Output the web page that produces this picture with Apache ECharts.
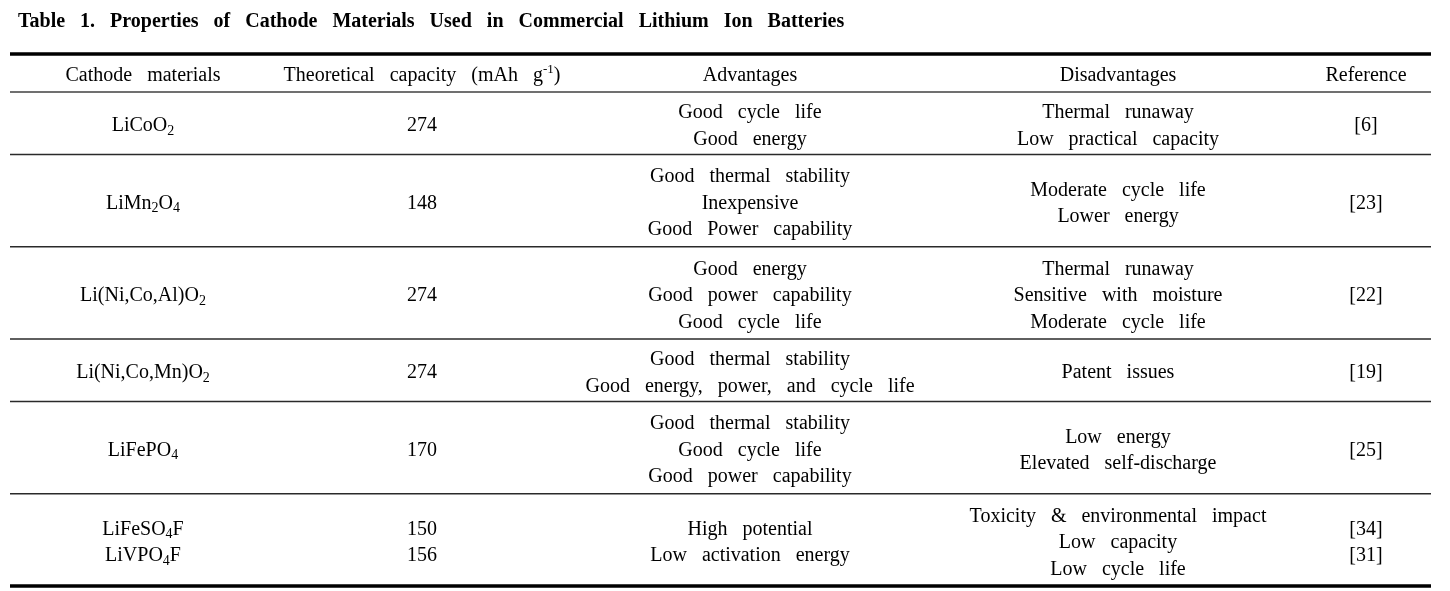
<!DOCTYPE html>
<html>
<head>
<meta charset="utf-8">
<script src="https://cdn.jsdelivr.net/npm/echarts@6/dist/echarts.min.js"></script>
<style>
  html, body { margin: 0; padding: 0; background: #ffffff; }
  #chart { width: 1450px; height: 591px; }
</style>
</head>
<body>
<div id="chart"></div>
<script>
// ---------- DATA ----------
const tableTitle = "Table 1. Properties of Cathode Materials Used in Commercial Lithium Ion Batteries";
const columnHeaders = ["Cathode materials", "Theoretical capacity (mAh g-1)", "Advantages", "Disadvantages", "Reference"];
const cathodeMaterials = [["LiCoO2"], ["LiMn2O4"], ["Li(Ni,Co,Al)O2"], ["Li(Ni,Co,Mn)O2"], ["LiFePO4"], ["LiFeSO4F", "LiVPO4F"]];
const theoreticalCapacity = [[274], [148], [274], [274], [170], [150, 156]];
const advantages = [
  ["Good cycle life", "Good energy"],
  ["Good thermal stability", "Inexpensive", "Good Power capability"],
  ["Good energy", "Good power capability", "Good cycle life"],
  ["Good thermal stability", "Good energy, power, and cycle life"],
  ["Good thermal stability", "Good cycle life", "Good power capability"],
  ["High potential", "Low activation energy"]
];
const disadvantages = [
  ["Thermal runaway", "Low practical capacity"],
  ["Moderate cycle life", "Lower energy"],
  ["Thermal runaway", "Sensitive with moisture", "Moderate cycle life"],
  ["Patent issues"],
  ["Low energy", "Elevated self-discharge"],
  ["Toxicity & environmental impact", "Low capacity", "Low cycle life"]
];
const references = [["[6]"], ["[23]"], ["[22]"], ["[19]"], ["[25]"], ["[34]", "[31]"]];

// ---------- LAYOUT (not data) ----------
const colCenters = [143, 422, 750, 1118, 1366];   // x-axis units
const ruleExtent = [10, 1431];                    // x-axis units
const headerSpan = 1.43;                          // y units (1 unit = one text line)
function groupSpan(n) { return n * 1.12 + 0.12; }
const textDy = 3;                                 // px baseline nudge for the serif font
const FONT = '"Liberation Serif", "Times New Roman", serif';

// ---------- BUILD ----------
const columns = [cathodeMaterials, theoreticalCapacity, advantages, disadvantages, references];
const wide = s => String(s).split(' ').join('   ');
const fmtCell = (col, s) => {
  s = wide(s);
  if (col === 0) s = s.replace(/(\d)/g, '{sub|$1}');
  return s;
};
const fmtHeader = s => wide(s).replace('g-1', 'g{sup|-1}');

const cells = [];      // [col, start, span]
const cellTexts = [];
const rules = [];      // [0, y, kind]
let y = 0;
rules.push([0, y, 0]);
columnHeaders.forEach((h, c) => {
  cells.push([c, y, headerSpan]);
  cellTexts.push(fmtHeader(h));
});
y += headerSpan;
rules.push([0, y, 1]);
const nGroups = cathodeMaterials.length;
for (let g = 0; g < nGroups; g++) {
  const n = Math.max(...columns.map(col => col[g].length));
  const span = groupSpan(n);
  columns.forEach((col, c) => {
    cells.push([c, y, span]);
    cellTexts.push(col[g].map(v => fmtCell(c, v)).join('\n'));
  });
  y += span;
  rules.push([0, y, g === nGroups - 1 ? 0 : 2]);
}
const totalSpan = y;

const rich = {
  sub: { fontFamily: FONT, fontSize: 14, fill: '#000', padding: [10, 0, 0, 0] },
  sup: { fontFamily: FONT, fontSize: 13, fill: '#000', padding: [0, 0, 13, 0] }
};
const ruleStyles = [
  { stroke: '#000000', lineWidth: 3.5 },
  { stroke: '#707070', lineWidth: 2 },
  { stroke: '#2a2a2a', lineWidth: 1.5 }
];

const chart = echarts.init(document.getElementById('chart'), null, { renderer: 'canvas' });
chart.setOption({
  animation: false,
  backgroundColor: '#ffffff',
  title: {
    text: wide(tableTitle),
    left: 13, top: 7,
    textStyle: { fontFamily: FONT, fontWeight: 'bold', fontSize: 20, color: '#000' }
  },
  grid: { left: 0, right: 0, top: 54, bottom: 5 },
  xAxis: { type: 'value', min: 0, max: 1450, show: false },
  yAxis: { type: 'value', min: 0, max: totalSpan, inverse: true, show: false },
  series: [
    {
      type: 'custom',
      clip: false,
      silent: true,
      data: rules,
      renderItem: function (params, api) {
        const yy = api.value(1);
        const kind = api.value(2);
        const p1 = api.coord([ruleExtent[0], yy]);
        const p2 = api.coord([ruleExtent[1], yy]);
        return {
          type: 'line',
          shape: { x1: p1[0], y1: p1[1], x2: p2[0], y2: p2[1] },
          style: ruleStyles[kind]
        };
      }
    },
    {
      type: 'custom',
      clip: false,
      silent: true,
      data: cells,
      renderItem: function (params, api) {
        const col = api.value(0), start = api.value(1), span = api.value(2);
        const p = api.coord([colCenters[col], start + span / 2]);
        const unitPx = Math.abs(api.size([0, 1])[1]);
        return {
          type: 'text',
          x: p[0], y: p[1] + textDy,
          style: {
            text: cellTexts[params.dataIndex],
            rich: rich,
            fontFamily: FONT,
            fontSize: 20,
            fill: '#000',
            align: 'center',
            verticalAlign: 'middle',
            lineHeight: unitPx
          }
        };
      }
    }
  ]
});
</script>
</body>
</html>
